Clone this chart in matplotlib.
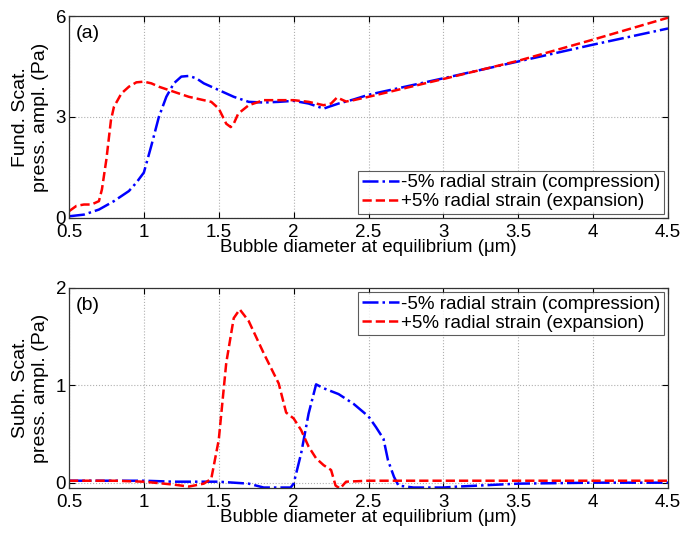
import matplotlib
matplotlib.use("Agg")
import matplotlib.pyplot as plt

plt.rcParams['font.family'] = ['Liberation Sans', 'DejaVu Sans']

# panel (a): fundamental scattered pressure amplitude
xa_comp = [0.5, 0.6, 0.7, 0.8, 0.9, 0.95, 1.0, 1.05, 1.1, 1.15, 1.2, 1.25, 1.3, 1.35,
           1.4, 1.5, 1.6, 1.7, 1.8, 1.9, 2.0, 2.1, 2.2, 2.3, 2.4, 2.5, 3.0, 3.5, 4.0, 4.5]
ya_comp = [0.05, 0.1, 0.25, 0.5, 0.8, 1.05, 1.35, 2.15, 3.0, 3.6, 4.0, 4.2, 4.22, 4.15,
           4.0, 3.8, 3.6, 3.45, 3.43, 3.45, 3.48, 3.4, 3.25, 3.4, 3.52, 3.66, 4.15, 4.65, 5.15, 5.63]

xa_exp = [0.5, 0.55, 0.6, 0.65, 0.7, 0.72, 0.75, 0.78, 0.8, 0.85, 0.9, 0.95, 1.0, 1.05,
          1.1, 1.2, 1.3, 1.4, 1.45, 1.5, 1.55, 1.58, 1.6, 1.63, 1.7, 1.8, 1.9, 2.0, 2.1,
          2.2, 2.25, 2.29, 2.35, 2.4, 2.5, 3.0, 3.5, 4.0, 4.5]
ya_exp = [0.2, 0.36, 0.4, 0.4, 0.5, 0.85, 1.75, 2.9, 3.3, 3.7, 3.9, 4.03, 4.05, 4.0,
          3.9, 3.75, 3.6, 3.5, 3.45, 3.25, 2.8, 2.7, 2.8, 3.1, 3.35, 3.5, 3.5, 3.5, 3.45,
          3.35, 3.4, 3.58, 3.46, 3.5, 3.6, 4.13, 4.67, 5.3, 5.95]

# panel (b): subharmonic scattered pressure amplitude
xb_comp = [0.5, 0.8, 1.0, 1.2, 1.5, 1.6, 1.7, 1.8, 1.9, 1.98, 2.0, 2.05, 2.1, 2.15, 2.2,
           2.3, 2.4, 2.5, 2.55, 2.6, 2.63, 2.67, 2.7, 2.8, 3.0, 3.1, 3.5, 4.0, 4.5]
yb_comp = [0.02, 0.02, 0.02, 0.01, 0.01, 0.0, -0.01, -0.05, -0.05, -0.05, -0.01, 0.3, 0.71,
           1.01, 0.97, 0.91, 0.81, 0.68, 0.57, 0.45, 0.23, 0.06, -0.03, -0.05, -0.05, -0.04,
           -0.01, 0.0, 0.0]

xb_exp = [0.5, 0.8, 1.0, 1.2, 1.3, 1.4, 1.45, 1.5, 1.55, 1.6, 1.64, 1.7, 1.8, 1.9, 1.95,
          2.0, 2.05, 2.1, 2.15, 2.2, 2.25, 2.28, 2.31, 2.35, 2.5, 3.0, 3.5, 4.0, 4.5]
yb_exp = [0.02, 0.02, 0.01, -0.02, -0.04, -0.01, 0.04, 0.44, 1.23, 1.69, 1.78, 1.66, 1.33,
          1.02, 0.72, 0.66, 0.54, 0.37, 0.25, 0.18, 0.13, -0.03, -0.06, 0.01, 0.02, 0.02,
          0.02, 0.02, 0.02]

label_comp = '-5% radial strain (compression)'
label_exp = '+5% radial strain (expansion)'
xticks = [0.5, 1, 1.5, 2, 2.5, 3, 3.5, 4, 4.5]
xticklabels = ['0.5', '1', '1.5', '2', '2.5', '3', '3.5', '4', '4.5']

fig = plt.figure(figsize=(6.81, 5.34), dpi=100)
ax1 = fig.add_axes([0.1013, 0.5918, 0.8797, 0.3782])
ax2 = fig.add_axes([0.1013, 0.0861, 0.8797, 0.3746])

fs = 13.5

def style(ax, yticks, ylim, ylabel, tag):
    ax.set_xlim(0.5, 4.5)
    ax.set_ylim(*ylim)
    ax.set_xticks(xticks)
    ax.set_xticklabels(xticklabels)
    ax.set_yticks(yticks)
    ax.set_yticklabels([str(t) for t in yticks])
    ax.grid(True, color='#b0b0b0', linestyle=':', linewidth=0.8)
    ax.tick_params(direction='in', top=True, right=True, labelsize=fs, length=4)
    ax.tick_params(axis='x', pad=4)
    ax.tick_params(axis='y', pad=2)
    for s in ax.spines.values():
        s.set_linewidth(0.9)
        s.set_color('#333333')
    ax.set_xlabel('Bubble diameter at equilibrium (\u03bcm)', fontsize=fs, labelpad=-1)
    ax.set_ylabel(ylabel, fontsize=fs + 0.5, labelpad=5)
    ax.text(0.012, 0.955, tag, transform=ax.transAxes, fontsize=fs + 0.5, va='top', ha='left')

ax1.plot(xa_comp, ya_comp, color='blue', linestyle='-.', linewidth=1.8, label=label_comp)
ax1.plot(xa_exp, ya_exp, color='red', linestyle='--', linewidth=1.8, label=label_exp)
style(ax1, [0, 3, 6], (0, 6), 'Fund. Scat.\npress. ampl. (Pa)', '(a)')
ax1.legend(loc='lower right', fontsize=fs, frameon=True, fancybox=False, edgecolor='#333333',
           borderpad=0.2, labelspacing=0.1, handlelength=2.0, handletextpad=0.1,
           borderaxespad=0.2).get_frame().set_linewidth(0.8)

ax2.plot(xb_comp, yb_comp, color='blue', linestyle='-.', linewidth=1.8, label=label_comp)
ax2.plot(xb_exp, yb_exp, color='red', linestyle='--', linewidth=1.8, label=label_exp)
style(ax2, [0, 1, 2], (-0.055, 2), 'Subh. Scat.\npress. ampl. (Pa)', '(b)')
ax2.legend(loc='upper right', fontsize=fs, frameon=True, fancybox=False, edgecolor='#333333',
           borderpad=0.2, labelspacing=0.1, handlelength=2.0, handletextpad=0.1,
           borderaxespad=0.2).get_frame().set_linewidth(0.8)

fig.savefig('out.png', dpi=100)
